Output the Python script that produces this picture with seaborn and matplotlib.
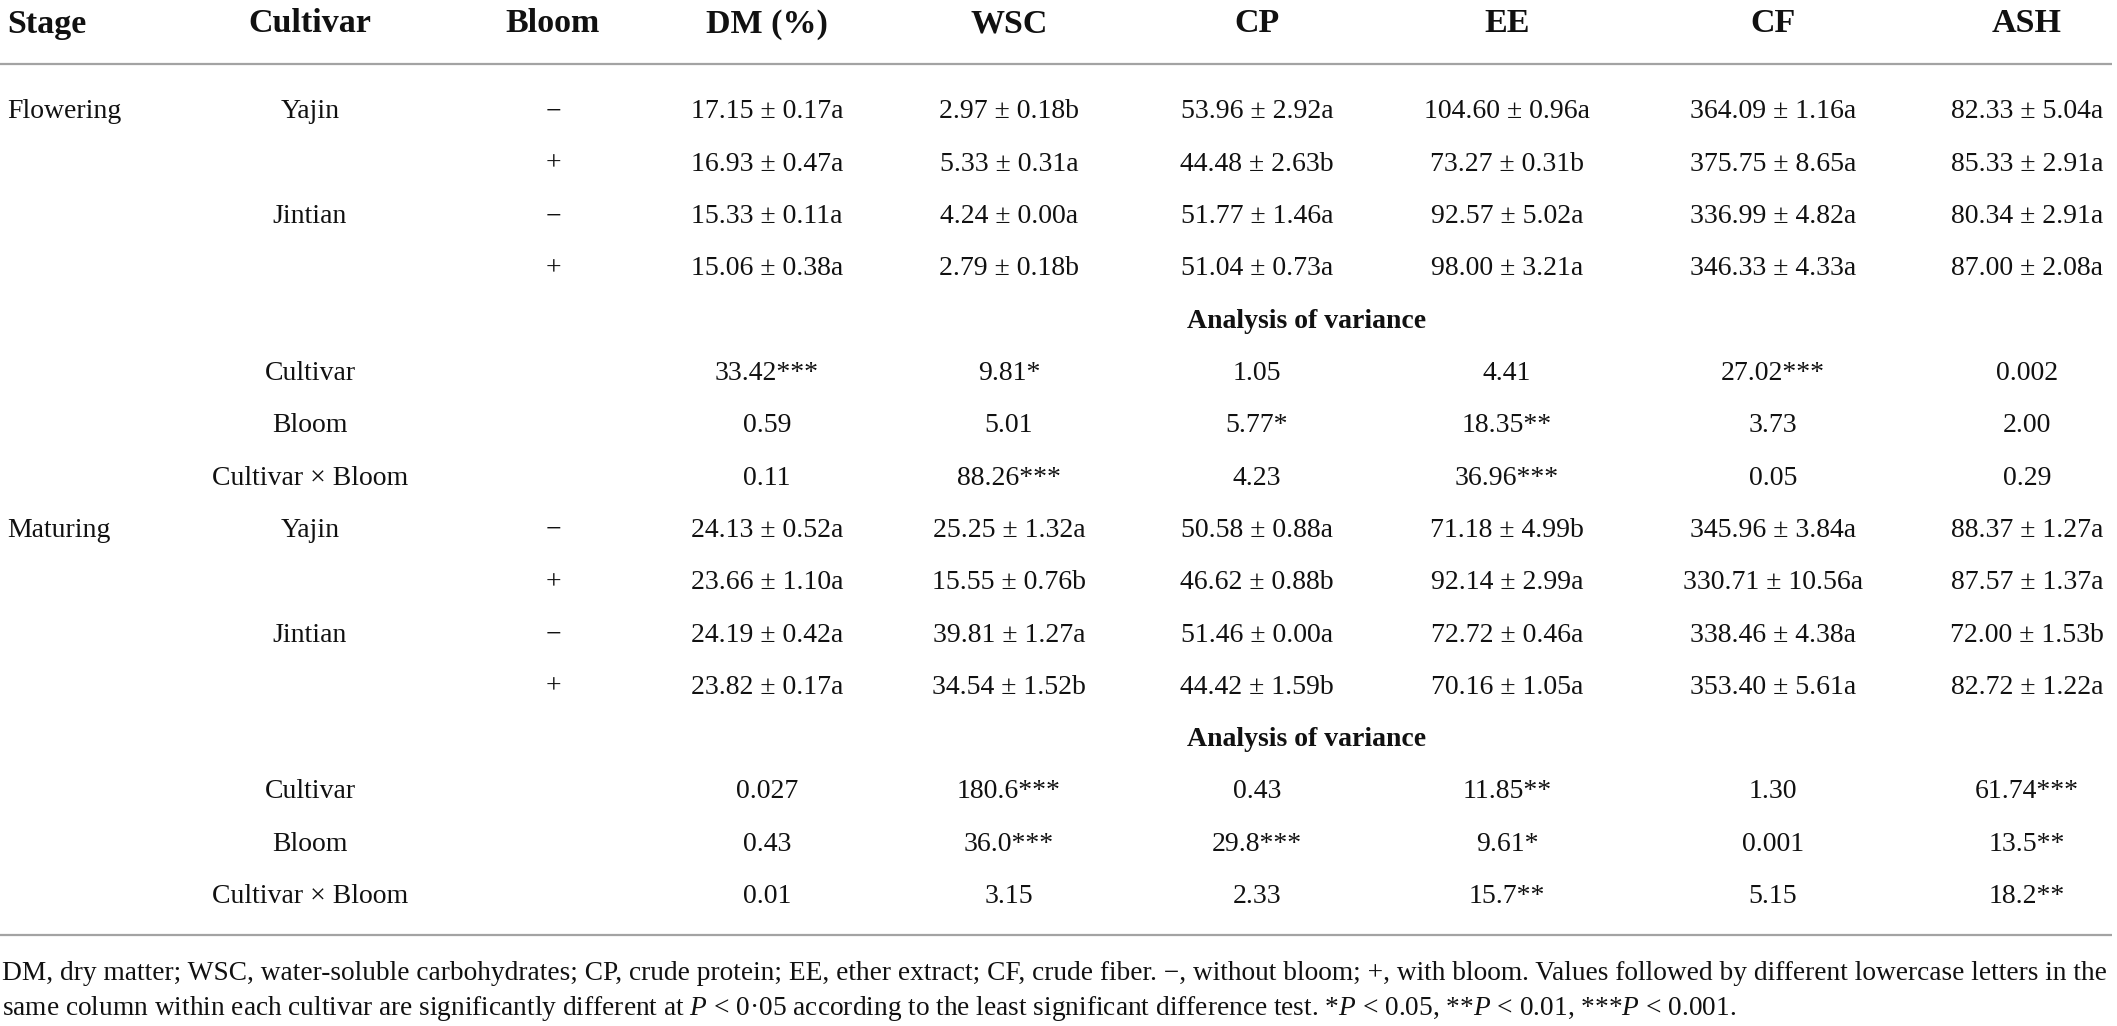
import matplotlib
matplotlib.use("Agg")
import matplotlib.pyplot as plt
import seaborn as sns

# ---------------- data ----------------
columns = ["DM (%)", "WSC", "CP", "EE", "CF", "ASH"]
stages = ["Flowering", "Maturing"]
cultivars = ["Yajin", "Jintian"]
blooms = ["\u2212", "+"]
anova_terms = ["Cultivar", "Bloom", "Cultivar \u00d7 Bloom"]

# Flowering stage: mean ± SE + letter (rows: Yajin-, Yajin+, Jintian-, Jintian+)
flow_yajin_minus = ["17.15 ± 0.17a", "2.97 ± 0.18b", "53.96 ± 2.92a", "104.60 ± 0.96a", "364.09 ± 1.16a", "82.33 ± 5.04a"]
flow_yajin_plus = ["16.93 ± 0.47a", "5.33 ± 0.31a", "44.48 ± 2.63b", "73.27 ± 0.31b", "375.75 ± 8.65a", "85.33 ± 2.91a"]
flow_jintian_minus = ["15.33 ± 0.11a", "4.24 ± 0.00a", "51.77 ± 1.46a", "92.57 ± 5.02a", "336.99 ± 4.82a", "80.34 ± 2.91a"]
flow_jintian_plus = ["15.06 ± 0.38a", "2.79 ± 0.18b", "51.04 ± 0.73a", "98.00 ± 3.21a", "346.33 ± 4.33a", "87.00 ± 2.08a"]
flow_anova_cultivar = ["33.42***", "9.81*", "1.05", "4.41", "27.02***", "0.002"]
flow_anova_bloom = ["0.59", "5.01", "5.77*", "18.35**", "3.73", "2.00"]
flow_anova_inter = ["0.11", "88.26***", "4.23", "36.96***", "0.05", "0.29"]

# Maturing stage
mat_yajin_minus = ["24.13 ± 0.52a", "25.25 ± 1.32a", "50.58 ± 0.88a", "71.18 ± 4.99b", "345.96 ± 3.84a", "88.37 ± 1.27a"]
mat_yajin_plus = ["23.66 ± 1.10a", "15.55 ± 0.76b", "46.62 ± 0.88b", "92.14 ± 2.99a", "330.71 ± 10.56a", "87.57 ± 1.37a"]
mat_jintian_minus = ["24.19 ± 0.42a", "39.81 ± 1.27a", "51.46 ± 0.00a", "72.72 ± 0.46a", "338.46 ± 4.38a", "72.00 ± 1.53b"]
mat_jintian_plus = ["23.82 ± 0.17a", "34.54 ± 1.52b", "44.42 ± 1.59b", "70.16 ± 1.05a", "353.40 ± 5.61a", "82.72 ± 1.22a"]
mat_anova_cultivar = ["0.027", "180.6***", "0.43", "11.85**", "1.30", "61.74***"]
mat_anova_bloom = ["0.43", "36.0***", "29.8***", "9.61*", "0.001", "13.5**"]
mat_anova_inter = ["0.01", "3.15", "2.33", "15.7**", "5.15", "18.2**"]

footnote_line1 = ("DM, dry matter; WSC, water-soluble carbohydrates; CP, crude protein; EE, ether extract; "
                  "CF, crude fiber. \u2212, without bloom; +, with bloom. Values followed by different "
                  "lowercase letters in the")
footnote_line2 = ("same column within each cultivar are significantly different at $P$ < 0\u00b705 according "
                  "to the least significant difference test. *$P$ < 0.05, **$P$ < 0.01, ***$P$ < 0.001.")

# ---------------- style ----------------
sns.set_theme(style="white")
plt.rcParams["font.family"] = ["Liberation Serif", "DejaVu Serif"]
plt.rcParams["mathtext.fontset"] = "custom"
plt.rcParams["mathtext.rm"] = "Liberation Serif"
plt.rcParams["mathtext.it"] = "Liberation Serif:italic"
plt.rcParams["mathtext.default"] = "it"

W, H = 2117, 1026
fig = plt.figure(figsize=(W / 100, H / 100), dpi=100)
ax = fig.add_axes([0, 0, 1, 1])
ax.set_xlim(0, W)
ax.set_ylim(H, 0)
ax.axis("off")

TXT = "#111111"
col_x = [767, 1009, 1257, 1507, 1773, 2027]
stage_x = 7
cult_x = 310
bloom_x = 553
body_fs = 20
head_fs = 24.5

# header
head_base = 32.5
ax.text(stage_x, head_base, "Stage", ha="left", va="baseline", fontsize=head_fs, fontweight="bold", color=TXT)
ax.text(cult_x, head_base, "Cultivar", ha="center", va="baseline", fontsize=head_fs, fontweight="bold", color=TXT)
ax.text(bloom_x, head_base, "Bloom", ha="center", va="baseline", fontsize=head_fs, fontweight="bold", color=TXT)
for x, c in zip(col_x, columns):
    ax.text(x, head_base, c, ha="center", va="baseline", fontsize=head_fs, fontweight="bold", color=TXT)

line_col = "#a3a3a3"
ax.plot([0, 2112], [64, 64], color=line_col, lw=1.6, solid_capstyle="butt")
ax.plot([0, 2112], [935, 935], color=line_col, lw=1.6, solid_capstyle="butt")

row0 = 118.5
dy = 52.3

blocks = [
    (stages[0], [flow_yajin_minus, flow_yajin_plus, flow_jintian_minus, flow_jintian_plus],
     [flow_anova_cultivar, flow_anova_bloom, flow_anova_inter]),
    (stages[1], [mat_yajin_minus, mat_yajin_plus, mat_jintian_minus, mat_jintian_plus],
     [mat_anova_cultivar, mat_anova_bloom, mat_anova_inter]),
]

r = 0
for stage, rows, anova in blocks:
    for i, vals in enumerate(rows):
        y = row0 + dy * r
        if i == 0:
            ax.text(stage_x, y, stage, ha="left", va="baseline", fontsize=body_fs, color=TXT)
        if i % 2 == 0:
            ax.text(cult_x, y, cultivars[i // 2], ha="center", va="baseline", fontsize=body_fs, color=TXT)
        ax.text(bloom_x, y, blooms[i % 2], ha="center", va="baseline", fontsize=body_fs, color=TXT)
        for x, v in zip(col_x, vals):
            ax.text(x, y, v, ha="center", va="baseline", fontsize=body_fs, color=TXT)
        r += 1
    y = row0 + dy * r
    ax.text(1307, y, "Analysis of variance", ha="center", va="baseline", fontsize=body_fs,
            fontweight="bold", color=TXT)
    r += 1
    for term, vals in zip(anova_terms, anova):
        y = row0 + dy * r
        ax.text(cult_x, y, term, ha="center", va="baseline", fontsize=body_fs, color=TXT)
        for x, v in zip(col_x, vals):
            ax.text(x, y, v, ha="center", va="baseline", fontsize=body_fs, color=TXT)
        r += 1

# footnote: fit first line to full table width
fn_fs = 17
t1 = ax.text(2, 980, footnote_line1, ha="left", va="baseline", fontsize=fn_fs, color=TXT)
fig.canvas.draw()
bb = t1.get_window_extent(renderer=fig.canvas.get_renderer())
fn_fs = fn_fs * 2108 / bb.width
t1.set_fontsize(fn_fs)
ax.text(2, 1015, footnote_line2, ha="left", va="baseline", fontsize=fn_fs, color=TXT)

fig.savefig("out.png", dpi=100, facecolor="white")
